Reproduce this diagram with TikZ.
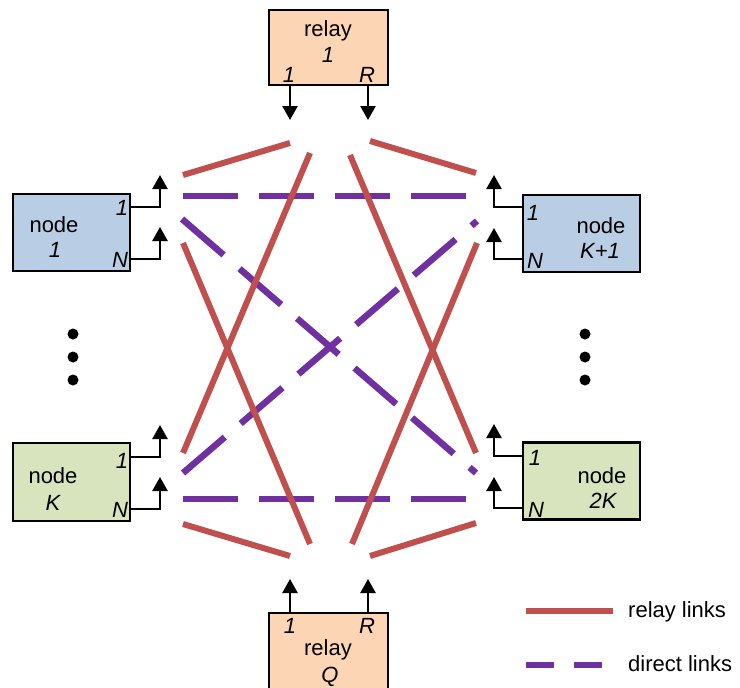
\documentclass[tikz,border=0pt]{standalone}
\usepackage{fontspec}
\setmainfont{Liberation Sans}
\usetikzlibrary{arrows.meta}
\definecolor{boxblue}{HTML}{B9CDE5}
\definecolor{boxgreen}{HTML}{D7E4BD}
\definecolor{boxorange}{HTML}{FCD5B5}
\definecolor{linkred}{HTML}{C0504D}
\definecolor{linkpurple}{HTML}{7030A0}
\tikzset{
  box/.style={draw=black, line width=2.5pt, rectangle, inner sep=0pt},
  lbl/.style={anchor=base, inner sep=0pt, font=\fontsize{22}{26}\selectfont},
  ilbl/.style={lbl, font=\fontsize{22}{26}\selectfont\itshape},
  port/.style={draw=black, line width=2.5pt, -{Triangle[width=15pt,length=14pt]}},
  relaylink/.style={draw=linkred, line width=6pt},
  directlink/.style={draw=linkpurple, line width=6.5pt, dash pattern=on 55pt off 21pt},
  dotmark/.style={circle, fill=black, inner sep=0pt, minimum size=11pt}
}
\begin{document}
\begin{tikzpicture}[x=1pt,y=-1pt]
\useasboundingbox (0,0) rectangle (740,688);
% boxes
\node[box, fill=boxorange, minimum width=119pt, minimum height=75pt] (r1) at (328.5,47.5) {};
\node[box, fill=boxorange, minimum width=119pt, minimum height=90pt] (rq) at (328.5,658) {};
\node[box, fill=boxblue, minimum width=117pt, minimum height=77pt] (n1) at (71.5,232.5) {};
\node[box, fill=boxblue, minimum width=117pt, minimum height=77pt] (nk1) at (581.5,233.5) {};
\node[box, fill=boxgreen, minimum width=117pt, minimum height=78pt] (nk) at (71.5,482) {};
\node[box, fill=boxgreen, minimum width=117pt, minimum height=77pt] (n2k) at (581.5,481) {};
% texts
\node[lbl] (t-r1a) at (328,37) {relay};
\node[ilbl] (t-r1b) at (328,63) {1};
\node[ilbl] (t-r1c) at (289,82) {1};
\node[ilbl] (t-r1d) at (367,82) {R};
\node[ilbl] (t-rqc) at (290,633) {1};
\node[ilbl] (t-rqd) at (367,633) {R};
\node[lbl] (t-rqa) at (328,655) {relay};
\node[ilbl] (t-rqb) at (330,682) {Q};
\node[lbl] (t-n1a) at (54,232) {node};
\node[ilbl] (t-n1b) at (55,257) {1};
\node[ilbl] (t-n1c) at (122,215) {1};
\node[ilbl] (t-n1d) at (120,267) {N};
\node[lbl] (t-nk1a) at (601,233) {node};
\node[ilbl] (t-nk1b) at (600,258) {K+1};
\node[ilbl] (t-nk1c) at (533,220) {1};
\node[ilbl] (t-nk1d) at (535,268) {N};
\node[lbl] (t-nka) at (53,483) {node};
\node[ilbl] (t-nkb) at (53,510) {K};
\node[ilbl] (t-nkc) at (122,468) {1};
\node[ilbl] (t-nkd) at (120,517) {N};
\node[lbl] (t-n2ka) at (602,483) {node};
\node[ilbl] (t-n2kb) at (603,508) {2K};
\node[ilbl] (t-n2kc) at (535,465) {1};
\node[ilbl] (t-n2kd) at (536,517) {N};
% port arrows
\coordinate (r1p1) at (290,85);   \coordinate (r1p1t) at (290,120);
\coordinate (r1pR) at (368,85);   \coordinate (r1pRt) at (368,120);
\coordinate (rqp1) at (290,613);  \coordinate (rqp1t) at (290,579);
\coordinate (rqpR) at (368,613);  \coordinate (rqpRt) at (368,579);
\draw[port] (r1p1) -- (r1p1t);
\draw[port] (r1pR) -- (r1pRt);
\draw[port] (rqp1) -- (rqp1t);
\draw[port] (rqpR) -- (rqpRt);
\coordinate (n1p1) at (130,207);  \coordinate (n1p1t) at (160,175);
\coordinate (n1pN) at (130,259);  \coordinate (n1pNt) at (160,227);
\coordinate (nkp1) at (130,457);  \coordinate (nkp1t) at (160,425);
\coordinate (nkpN) at (130,509);  \coordinate (nkpNt) at (160,477);
\coordinate (k1p1) at (523,207);  \coordinate (k1p1t) at (494,175);
\coordinate (k1pN) at (523,259);  \coordinate (k1pNt) at (494,228);
\coordinate (k2p1) at (523,456);  \coordinate (k2p1t) at (494,424);
\coordinate (k2pN) at (523,508);  \coordinate (k2pNt) at (494,477);
\foreach \a/\b in {n1p1/n1p1t, n1pN/n1pNt, nkp1/nkp1t, nkpN/nkpNt, k1p1/k1p1t, k1pN/k1pNt, k2p1/k2p1t, k2pN/k2pNt}
  \draw[port] (\a) -| (\b);
% dots
\foreach \y [count=\i] in {334,357,380} {
  \node[dotmark] (dl\i) at (73,\y) {};
  \node[dotmark] (dr\i) at (585,\y) {};
}
% link end points
\coordinate (a1) at (183,175); \coordinate (a2) at (290,143);
\coordinate (b1) at (370,141); \coordinate (b2) at (476,173);
\coordinate (c1) at (310,153); \coordinate (c2) at (183,453);
\coordinate (d1) at (350,155); \coordinate (d2) at (476,453);
\coordinate (e1) at (183,243); \coordinate (e2) at (310,544);
\coordinate (f1) at (477,243); \coordinate (f2) at (352,544);
\coordinate (g1) at (183,524); \coordinate (g2) at (290,556);
\coordinate (h1) at (370,556); \coordinate (h2) at (476,523);
\coordinate (p1) at (183,196); \coordinate (p2) at (470,196);
\coordinate (q1) at (183,499); \coordinate (q2) at (470,499);
\coordinate (s1) at (182,219); \coordinate (s2) at (476,473);
\coordinate (u1) at (183,473); \coordinate (u2) at (477,221);
% direct links
\draw[directlink] (p1) -- (p2);
\draw[directlink] (q1) -- (q2);
\draw[directlink] (s1) -- (s2);
\draw[directlink] (u1) -- (u2);
% relay links
\foreach \a/\b in {a1/a2, b1/b2, c1/c2, d1/d2, e1/e2, f1/f2, g1/g2, h1/h2}
  \draw[relaylink] (\a) -- (\b);
% legend
\coordinate (lr1) at (526,611); \coordinate (lr2) at (613,611);
\coordinate (lp1) at (526,665); \coordinate (lp2) at (603,665);
\draw[relaylink] (lr1) -- (lr2);
\draw[draw=linkpurple, line width=6.5pt, dash pattern=on 28pt off 20pt] (lp1) -- (lp2);
\node[lbl, anchor=base west] (leg1) at (628,617) {relay links};
\node[lbl, anchor=base west] (leg2) at (628,671) {direct links};
\end{tikzpicture}
\end{document}
